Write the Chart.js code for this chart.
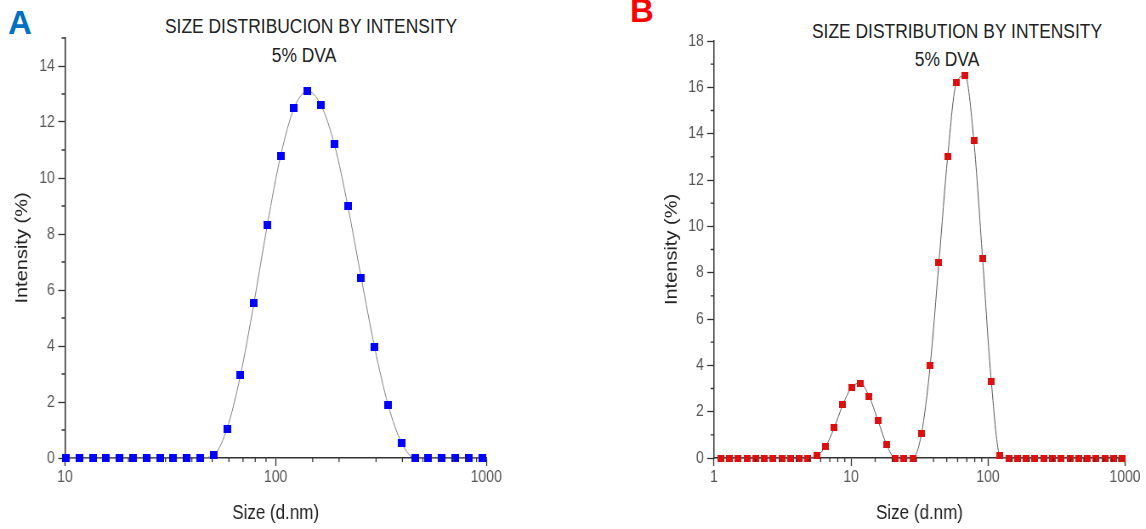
<!DOCTYPE html>
<html>
<head>
<meta charset="utf-8">
<script src="https://cdn.jsdelivr.net/npm/chart.js@4.4.0/dist/chart.umd.min.js"></script>
<style>
  html, body { margin: 0; padding: 0; background: #fff; }
  body { width: 1146px; height: 529px; position: relative; overflow: hidden; font-family: 'Liberation Sans', Arial, sans-serif; }
  .panel { position: absolute; top: 0; height: 529px; transform-origin: 0 0; transform: scaleX(0.85); }
  #panelA { left: 0; width: 674px; }
  #panelB { left: 590px; width: 654px; }
  .letter { position: absolute; font-weight: bold; font-size: 33px; line-height: 1; }
  .title { position: absolute; white-space: nowrap; font-size: 20.5px; line-height: 1; color: #222; transform: translate(-50%, -50%) scaleX(0.85); }
</style>
</head>
<body>
<div class="letter" style="left:8px; top:6px; color:#0070c0;">A</div>
<div class="letter" style="left:630px; top:-6px; color:#ff0000;">B</div>

<div class="title" style="left:310.5px; top:26px;">SIZE DISTRIBUCION BY INTENSITY</div>
<div class="title" style="left:303.5px; top:54.5px;">5% DVA</div>
<div class="title" style="left:957px; top:30.5px;">SIZE DISTRIBUTION BY INTENSITY</div>
<div class="title" style="left:947px; top:59px;">5% DVA</div>

<div class="panel" id="panelA"><canvas id="chartA" width="674" height="529"></canvas></div>
<div class="panel" id="panelB"><canvas id="chartB" width="654" height="529"></canvas></div>

<script>
// Datos (tamaño en d.nm, intensidad en %)
const sizesA = [10.1, 11.7, 13.54, 15.69, 18.17, 21.04, 24.36, 28.21, 32.67, 37.84, 43.82,
  50.75, 58.77, 68.06, 78.82, 91.28, 105.7, 122.4, 141.8, 164.2, 190.1, 220.2, 255, 295.3,
  342, 396.1, 458.7, 531.2, 615.1, 712.4, 825, 955.4];
const intensityA = [0, 0, 0, 0, 0, 0, 0, 0, 0, 0, 0,
  0.1, 1.05, 2.95, 5.52, 8.32, 10.8, 12.5, 13.1, 12.6, 11.2, 9.0, 6.43, 3.95,
  1.9, 0.55, 0, 0, 0, 0, 0, 0];

const sizesB = [1.117, 1.294, 1.499, 1.736, 2.01, 2.328, 2.696, 3.122, 3.615, 4.187, 4.849,
  5.615, 6.503, 7.531, 8.721, 10.1, 11.7, 13.54, 15.69, 18.17, 21.04, 24.36, 28.21, 32.67,
  37.84, 43.82, 50.75, 58.77, 68.06, 78.82, 91.28, 105.7, 122.4,
  141.8, 164.2, 190.1, 220.2, 255, 295.3, 342, 396.1, 458.7, 531.2, 615.1, 712.4, 825, 955.4];
const intensityB = [0, 0, 0, 0, 0, 0, 0, 0, 0, 0, 0,
  0.1, 0.48, 1.3, 2.3, 3.05, 3.23, 2.67, 1.64, 0.58, 0, 0, 0, 1.04,
  4.0, 8.45, 13.0, 16.2, 16.5, 13.7, 8.6, 3.3, 0.1,
  0, 0, 0, 0, 0, 0, 0, 0, 0, 0, 0, 0, 0, 0];

// Rangos de ejes
const xRangeA = [10, 1000];
const yRangeA = [0, 15];
const xRangeB = [1, 1000];
const yRangeB = [0, 18];

const axisColor = '#333';
const tickText = '#555';
const fontFamily = "'Liberation Sans', Arial, sans-serif";

function isDecade(v) {
  const l = Math.log10(v);
  return Math.abs(l - Math.round(l)) < 1e-9;
}

// Marcador cuadrado (compensa el scaleX del panel)
function makeMarker(w, h, color) {
  const c = document.createElement('canvas');
  c.width = w; c.height = h;
  const g = c.getContext('2d');
  g.fillStyle = color;
  g.fillRect(0, 0, w, h);
  return c;
}

// Ticks menores (más cortos) en ambos ejes
const minorTicks = {
  id: 'minorTicks',
  afterDraw(chart) {
    const ctx = chart.ctx;
    const xs = chart.scales.x, ys = chart.scales.y;
    ctx.save();
    ctx.strokeStyle = axisColor;
    ctx.lineWidth = 1.3;
    ctx.beginPath();
    xs.ticks.forEach(t => {
      if (!isDecade(t.value)) {
        const px = xs.getPixelForValue(t.value);
        ctx.moveTo(px, xs.top);
        ctx.lineTo(px, xs.top + 4);
      }
    });
    ys.ticks.forEach(t => {
      if (t.value % 2 !== 0) {
        const py = ys.getPixelForValue(t.value);
        ctx.moveTo(ys.right - 4, py);
        ctx.lineTo(ys.right, py);
      }
    });
    ctx.stroke();
    ctx.restore();
  }
};

function buildChart(id, sizes, values, cfg) {
  const ctx = document.getElementById(id);
  return new Chart(ctx, {
    type: 'line',
    data: {
      datasets: [{
        data: sizes.map((s, i) => ({ x: s, y: values[i] })),
        borderColor: cfg.lineColor,
        borderWidth: 1,
        cubicInterpolationMode: 'monotone',
        pointStyle: cfg.marker,
        pointRadius: 4,
        clip: false
      }]
    },
    options: {
      responsive: false,
      animation: false,
      events: [],
      layout: { padding: { left: cfg.padLeft, right: cfg.padRight, top: cfg.padTop, bottom: 0 } },
      plugins: { legend: { display: false }, tooltip: { enabled: false } },
      scales: {
        x: {
          type: 'logarithmic',
          min: cfg.xRange[0],
          max: cfg.xRange[1],
          border: { display: true, color: axisColor, width: 1.5 },
          grid: {
            drawOnChartArea: false,
            drawTicks: true,
            tickLength: 8,
            tickWidth: 1.3,
            tickColor: c => isDecade(c.tick.value) ? axisColor : 'rgba(0,0,0,0)'
          },
          ticks: {
            autoSkip: false,
            maxRotation: 0,
            padding: 2,
            color: tickText,
            font: { family: fontFamily, size: 16.5 },
            callback: v => isDecade(v) ? String(v) : ''
          },
          title: {
            display: true,
            text: 'Size (d.nm)',
            color: '#222',
            font: { family: fontFamily, size: 20 },
            padding: { top: 0, bottom: 4 }
          },
          afterFit: s => { s.height = 71; }
        },
        y: {
          min: cfg.yRange[0],
          max: cfg.yRange[1],
          border: { display: true, color: axisColor, width: 1.5 },
          grid: {
            drawOnChartArea: false,
            drawTicks: true,
            tickLength: 8,
            tickWidth: 1.3,
            tickColor: c => c.tick.value % 2 === 0 ? axisColor : 'rgba(0,0,0,0)'
          },
          ticks: {
            stepSize: 1,
            autoSkip: false,
            padding: 4,
            color: tickText,
            font: { family: fontFamily, size: 16.5 },
            callback: v => v % 2 === 0 ? String(v) : ''
          },
          title: {
            display: true,
            text: 'Intensity (%)',
            color: '#222',
            font: { family: fontFamily, size: 20 },
            padding: { top: 14, bottom: 0 }
          },
          afterFit: s => { s.width = cfg.yWidth; }
        }
      }
    },
    plugins: [minorTicks]
  });
}

buildChart('chartA', sizesA, intensityA, {
  xRange: xRangeA, yRange: yRangeA,
  padLeft: 0, padRight: 102, padTop: 38, yWidth: 76.5,
  lineColor: '#808080',
  marker: makeMarker(9, 8, '#0000ff')
});

buildChart('chartB', sizesB, intensityB, {
  xRange: xRangeB, yRange: yRangeB,
  padLeft: 70, padRight: 24.6, padTop: 41, yWidth: 75.9,
  lineColor: '#5a5a5a',
  marker: makeMarker(8, 7, '#dd1010')
});
</script>
</body>
</html>
